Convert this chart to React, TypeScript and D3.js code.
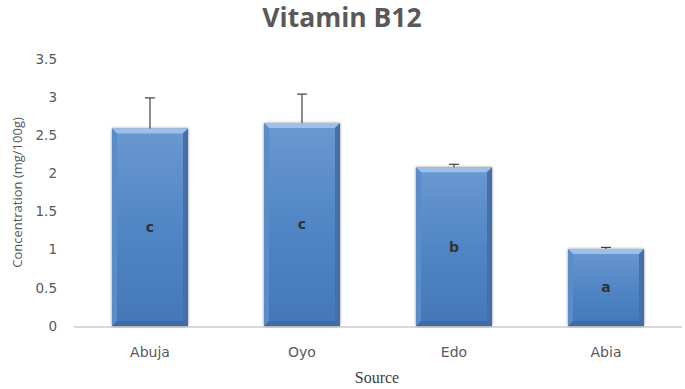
import React from "react";
import * as d3 from "d3";

const sources = ["Abuja", "Oyo", "Edo", "Abia"];
const concentration = [2.59, 2.66, 2.08, 1.01];
const errors = [0.4, 0.38, 0.04, 0.02];
const groups = ["c", "c", "b", "a"];
const yTicks = [0, 0.5, 1, 1.5, 2, 2.5, 3, 3.5];

const W = 685;
const H = 389;
const margin = { top: 59, right: 3, bottom: 63, left: 74 };

const App = () => {
  const x = d3
    .scaleBand()
    .domain(sources)
    .range([margin.left, W - margin.right])
    .paddingInner(0.5)
    .paddingOuter(0.25);
  const y = d3
    .scaleLinear()
    .domain([0, 3.5])
    .range([H - margin.bottom, margin.top]);
  const bw = x.bandwidth();
  const bev = 5;

  return (
    <svg
      width={W}
      height={H}
      style={{ position: "absolute", left: 0, top: 0, background: "#fff" }}
    >
      <defs>
        <linearGradient id="face" x1="0" y1="0" x2="0" y2="1">
          <stop offset="0" stopColor="#6b98d0" />
          <stop offset="0.5" stopColor="#5186c6" />
          <stop offset="1" stopColor="#4477b8" />
        </linearGradient>
        <filter id="shadow" x="-20%" y="-10%" width="140%" height="120%">
          <feGaussianBlur in="SourceAlpha" stdDeviation="1.5" />
          <feOffset dx="0" dy="0" />
          <feComponentTransfer>
            <feFuncA type="linear" slope="0.45" />
          </feComponentTransfer>
          <feMerge>
            <feMergeNode />
            <feMergeNode in="SourceGraphic" />
          </feMerge>
        </filter>
      </defs>

      <text
        x={342}
        y={27}
        textAnchor="middle"
        fontFamily="'Open Sans', sans-serif"
        fontWeight="bold"
        fontSize={26.5}
        fill="#595959"
      >
        Vitamin B12
      </text>

      {yTicks.map((t) => (
        <text
          key={t}
          x={57}
          y={y(t)}
          dy="0.35em"
          textAnchor="end"
          fontFamily="'DejaVu Sans', sans-serif"
          fontSize={13.5}
          fill="#595959"
        >
          {t}
        </text>
      ))}

      <text
        transform={`translate(22,${(y(0) + y(3.5)) / 2}) rotate(-90)`}
        textAnchor="middle"
        fontFamily="'Open Sans', sans-serif"
        fontSize={13}
        fill="#595959"
      >
        Concentration (mg/100g)
      </text>

      <line
        x1={margin.left}
        x2={W - margin.right}
        y1={y(0) + 1}
        y2={y(0) + 1}
        stroke="#d9d9d9"
        strokeWidth={2}
      />

      {sources.map((s, i) => {
        const x0 = x(s)!;
        const x1 = x0 + bw;
        const y0 = y(concentration[i]);
        const yb = y(0);
        const cx = x0 + bw / 2;
        return (
          <g key={s}>
            <rect
              x={x0}
              y={y0}
              width={bw}
              height={yb - y0}
              fill="url(#face)"
              filter="url(#shadow)"
            />
            <polygon
              points={`${x0},${y0} ${x1},${y0} ${x1 - bev},${y0 + bev} ${x0 + bev},${y0 + bev}`}
              fill="#9dbfe9"
            />
            <polygon
              points={`${x0},${y0} ${x0 + bev},${y0 + bev} ${x0 + bev},${yb - bev} ${x0},${yb}`}
              fill="#5a8cca"
            />
            <polygon
              points={`${x1},${y0} ${x1},${yb} ${x1 - bev},${yb - bev} ${x1 - bev},${y0 + bev}`}
              fill="#4470aa"
            />
            <polygon
              points={`${x0},${yb} ${x0 + bev},${yb - bev} ${x1 - bev},${yb - bev} ${x1},${yb}`}
              fill="#3f6ca8"
            />
            <line
              x1={cx}
              x2={cx}
              y1={y0}
              y2={y(concentration[i] + errors[i])}
              stroke="#404040"
              strokeWidth={1.2}
            />
            <line
              x1={cx - 5}
              x2={cx + 5}
              y1={y(concentration[i] + errors[i])}
              y2={y(concentration[i] + errors[i])}
              stroke="#404040"
              strokeWidth={1.2}
            />
            <text
              x={cx}
              y={(y0 + yb) / 2}
              dy="0.35em"
              textAnchor="middle"
              fontFamily="'DejaVu Sans', sans-serif"
              fontWeight="bold"
              fontSize={14}
              fill="#333"
            >
              {groups[i]}
            </text>
            <text
              x={cx}
              y={352}
              dy="0.35em"
              textAnchor="middle"
              fontFamily="'DejaVu Sans', sans-serif"
              fontSize={14}
              fill="#595959"
            >
              {s}
            </text>
          </g>
        );
      })}

      <text
        x={377}
        y={377}
        dy="0.35em"
        textAnchor="middle"
        fontFamily="'Liberation Serif', serif"
        fontSize={16}
        fill="#404040"
      >
        Source
      </text>
    </svg>
  );
};

export default App;
